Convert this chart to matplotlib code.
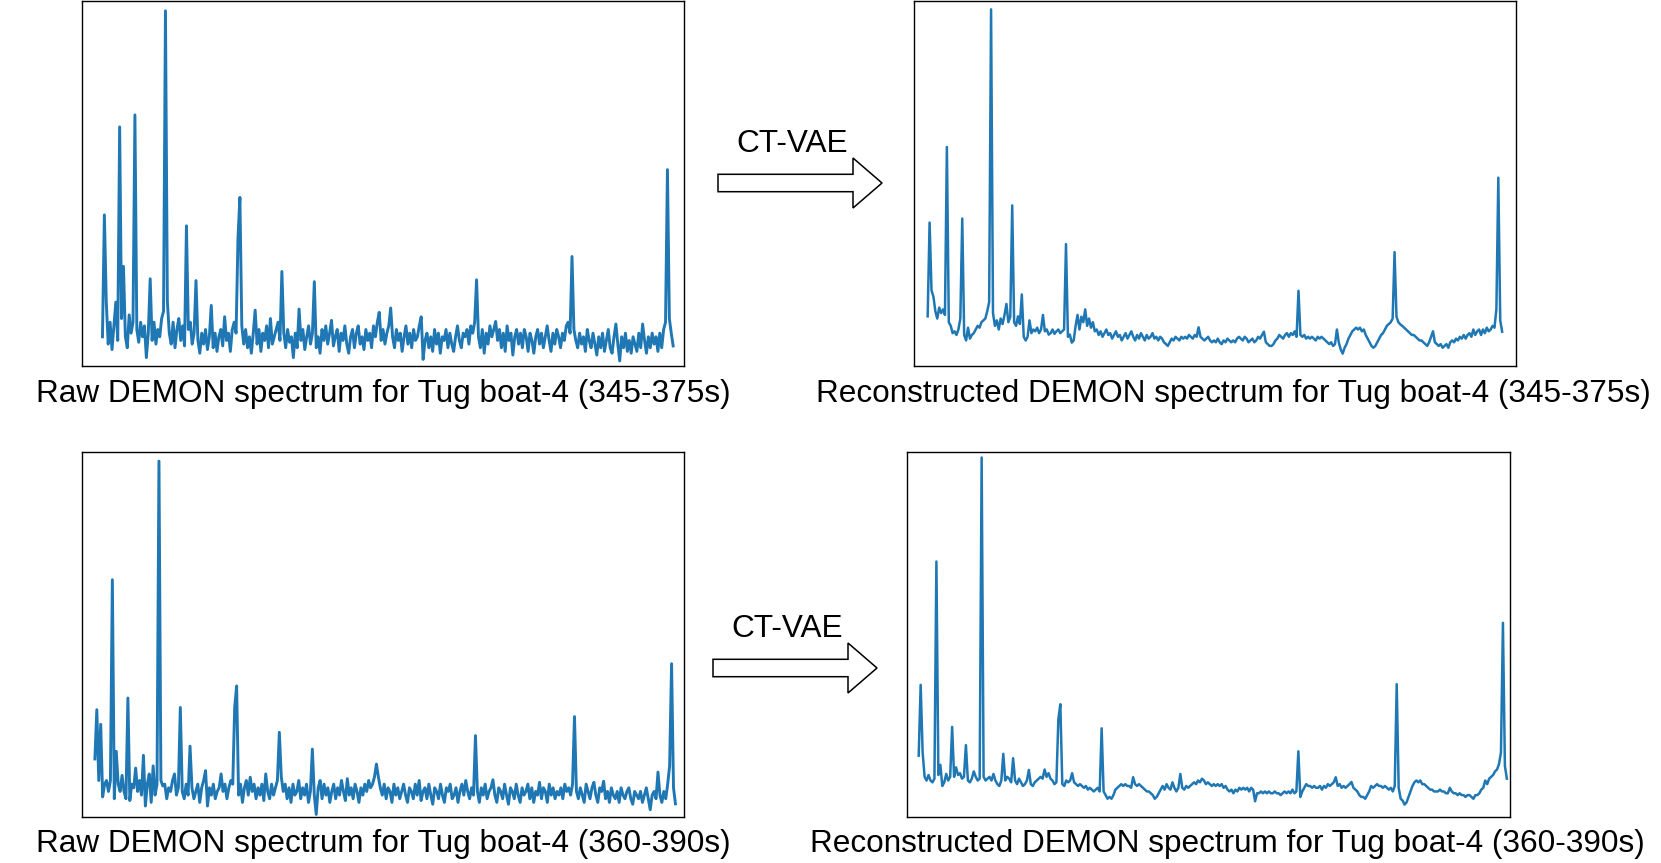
#================================================================================
# DEMON spectra of Tug boat-4: raw input vs CT-VAE reconstruction
#================================================================================

import matplotlib
matplotlib.use("Agg")
import matplotlib.pyplot as plt
from matplotlib.patches import Polygon

#================================================================================
# Data (amplitude in % of panel height)

raw_345 = [
    8, 41.4, 17.5, 6, 12, 4.5, 11, 17.5, 7, 65.5,
    13, 27.3, 8, 5, 14, 9, 12, 68.8, 10, 6.5,
    12, 8, 11, 2.3, 9, 23.9, 7, 12, 6, 10,
    8, 13, 15, 97.3, 17.7, 9, 6, 12, 5, 10,
    13, 7, 11, 5.5, 38.4, 10, 12, 6, 9, 23.4,
    7, 3.5, 9, 6, 10, 4.5, 8, 16.6, 5, 9,
    4, 8, 10, 5.5, 13.5, 7, 9, 4, 10, 12,
    9, 35, 46.2, 11, 6, 10, 5, 8, 3.5, 9,
    15.3, 6, 10, 4, 9, 7, 11, 5, 13, 6,
    8, 10, 12, 7, 25.9, 9, 5, 10, 6.5, 8,
    2.3, 9, 5, 15.6, 7, 10, 4.5, 8, 11, 6,
    9, 23.1, 5, 8, 3.5, 10, 7, 11, 6, 9,
    12.5, 5.5, 8, 10, 4, 9, 7, 11, 6, 3.5,
    8, 10, 5, 9, 11, 6, 8, 4.5, 10, 7,
    9, 5, 11, 8, 12, 14.7, 7, 10, 6, 9,
    11, 15.9, 8, 5, 10, 7, 9, 4, 8, 11,
    6, 9, 5, 10, 7, 8, 11, 13.5, 1.8, 7,
    9, 5, 8, 4, 10, 6, 9, 3.5, 8, 7,
    10, 5, 9, 6, 4, 8, 11, 7, 5, 9,
    8, 10, 6, 11, 9, 12, 23.6, 8, 5, 10,
    3.5, 9, 6, 11, 8, 10, 12.2, 7, 10, 5,
    9, 4, 11, 7, 9, 3, 8, 10, 6, 9,
    5, 10, 8, 4, 9, 7, 3.5, 8, 10, 6,
    9, 5, 8, 11, 7, 4, 9, 6, 10, 8,
    5, 9, 7, 11, 12, 9, 30, 10, 7, 5,
    9, 6, 8, 4, 10, 7, 5, 9, 6, 3,
    8, 5, 9, 4, 7, 10, 5, 3.5, 8, 11.5,
    6, 1.4, 8, 5, 9, 4, 7, 3.5, 8, 6,
    4, 9, 5, 11.5, 7, 3.5, 8, 5, 9, 6,
    8, 4, 9, 5, 10, 12, 53.8, 13, 9, 5.5,
]

recon_345 = [
    13.6, 39.3, 20.7, 19, 15, 13, 16, 14.5, 15.5, 14,
    60, 12, 11, 9, 9.5, 8.5, 10, 13, 40.4, 8.5,
    7, 10.5, 7.5, 8.5, 9, 10, 11, 10.5, 12, 12.5,
    13, 15, 17.5, 97.7, 14.5, 11, 12.5, 10, 13, 11.5,
    14, 17, 12, 13.5, 44, 12, 11, 13.6, 11.5, 19.6,
    8, 7, 8, 12.5, 9, 10, 9.5, 10.5, 9, 10,
    14, 9.5, 10, 8.6, 9, 10, 8.8, 9.5, 10, 9,
    9.5, 10, 33.4, 8, 8.6, 6.4, 7, 11, 14, 10,
    13.5, 12, 15.5, 11, 13, 10.5, 12, 9.5, 10, 8.5,
    9.5, 8, 9, 10, 8.5, 9, 7.5, 8.5, 9.5, 8,
    8.5, 7, 8, 9, 7.5, 8.5, 9.5, 8, 7, 8.5,
    7.5, 9, 8, 7, 8.5, 7.5, 8, 9, 7.5, 8,
    7, 8, 7.5, 6.5, 6, 5.5, 6.5, 7.5, 7, 8,
    7.5, 7, 8, 7.5, 8, 7.5, 8.5, 8, 7.5, 8.5,
    8, 10.6, 8, 7.5, 7, 7.5, 8, 7, 6.5, 7,
    6.5, 7.5, 6.5, 6, 7, 6.5, 7.5, 7, 6.5, 7,
    6.5, 7.5, 8, 7.5, 7, 8, 7.5, 6.5, 7, 7.5,
    6.5, 7, 8, 7.5, 8.5, 9.4, 6.5, 6, 5.5, 5.5,
    6, 7, 7.5, 8.5, 8, 7.5, 8.5, 9, 8, 9,
    8.5, 9.5, 8, 20.6, 8.5, 8, 8.5, 7.5, 8, 7.5,
    8, 7.5, 7, 8, 7.5, 8, 7.5, 7, 6.5, 6,
    6.5, 5.5, 6, 10, 6.4, 4.5, 3.4, 5, 6, 7.5,
    8.5, 9.5, 10, 10.5, 10, 10.5, 9.5, 10, 8.5, 7.5,
    6.5, 5.5, 5, 5.5, 6.5, 7.5, 8.5, 9, 10, 11,
    11.5, 12, 13, 31.2, 13.5, 12, 11.4, 11, 10.5, 10,
    9.5, 9, 8.5, 8.5, 8, 7.5, 7, 7, 6.5, 6,
    5.5, 6.5, 8, 9.5, 6.5, 6, 5.5, 6, 5, 5.5,
    6, 5, 6.5, 7, 6.5, 7.5, 7, 8, 7.5, 8.5,
    7.5, 8.5, 9, 8, 10, 8.5, 9.5, 10, 8.5, 10,
    9, 10.5, 9.5, 10, 11, 10.5, 15.5, 51.6, 12.5, 9.4,
]

raw_360 = [
    15.9, 29.4, 10, 25.4, 5.5, 9, 10, 7, 10, 65,
    5, 18, 9, 7, 11.4, 7, 5, 32.6, 4.5, 9,
    8, 13.4, 7, 10, 6, 16.9, 3, 9, 11.8, 4,
    14, 6, 9, 97.5, 10, 8.5, 9, 5, 8, 7,
    10, 11.8, 6, 8, 30, 7, 5, 9, 6, 19.4,
    8, 5, 7, 9, 4, 8, 10, 12.7, 3, 8,
    6, 9, 5, 7, 8, 11.8, 7, 9, 5, 8,
    10, 9, 30, 35.9, 6, 9, 4, 8, 10, 6,
    10.9, 7, 9, 5, 8, 6, 9, 4.5, 11.8, 7,
    5, 9, 6, 8, 10, 23.2, 11, 7, 9, 5,
    8, 4, 9, 6, 7, 10, 5, 8, 6, 9,
    4, 7, 18.6, 6, 0.7, 8, 10, 5, 9, 6,
    8, 4, 7, 9, 5, 8, 6, 10, 7, 4.5,
    10.5, 6, 8, 5, 9, 7, 4, 8, 6, 9,
    7, 10, 8, 9, 11, 14.5, 11, 8, 6, 9,
    5, 8, 7, 4, 9, 6, 8, 5, 7, 9,
    6, 4, 8, 7, 5, 9, 6, 10, 4.5, 7,
    8, 5, 9, 6, 3.5, 8, 7, 5, 9, 6,
    4, 8, 7, 9, 5, 6, 8, 4, 7, 9,
    6, 10, 7, 5, 8, 6, 22.3, 7, 4, 8,
    6, 9, 5, 7, 8, 10.2, 6, 4, 8, 7,
    5, 9, 6, 3.5, 8, 7, 5, 9, 6, 4,
    8, 6, 7, 9, 5, 8, 4, 7, 6, 9.5,
    5, 8, 7, 4, 9, 6, 8, 5, 7, 6,
    8, 5, 9, 7, 8, 6, 9, 27.5, 7, 5,
    8, 6, 4, 9, 7, 5, 8, 9.5, 6, 4,
    8, 7, 9.8, 5, 7, 4, 8, 6, 5, 7,
    4, 8, 6, 5, 7, 8, 5, 3.5, 7, 6,
    5, 7, 4, 6, 8, 5, 2, 6, 7, 5,
    12.3, 6, 4, 7, 5, 9, 14, 42, 8, 3.6,
]

recon_360 = [
    16.8, 36.2, 17.7, 11, 10, 11.5, 10, 9.5, 10.5, 70,
    11.5, 14.3, 8.5, 9.5, 11.8, 10, 11, 24.7, 11, 13.6,
    11.5, 12, 10.5, 11, 19.7, 10, 9.5, 10.5, 12.5, 11,
    10, 10.5, 98.5, 11, 10, 10.5, 11, 10, 11.8, 10,
    9, 8.5, 10, 17.3, 10, 11, 10.5, 9.5, 16.1, 10,
    9, 10.5, 9.5, 8.5, 9, 10, 12.9, 9, 8.5, 9.5,
    10, 10.5, 11, 10.5, 13, 11, 12, 10.5, 10, 9,
    9.5, 26.8, 30.9, 9, 8.5, 10, 9.5, 10, 12, 9.5,
    9, 8.5, 9, 8.5, 8, 8.5, 7.5, 8, 7.5, 7,
    7.5, 8, 7, 24.3, 7, 6, 5, 5.5, 5, 6,
    7.5, 8, 8.5, 9, 8.5, 9, 8.5, 8.5, 8, 10.9,
    9, 8.5, 9, 8.5, 8, 7.5, 7, 7, 6.5, 6,
    5, 5.5, 6.5, 7.5, 8.5, 7.5, 9, 8, 7.5, 9.5,
    8, 7, 8, 11.8, 8, 7.5, 8.5, 8, 8.5, 9,
    9.5, 9, 10, 9.5, 10.5, 10, 9, 9.5, 9, 8.5,
    9, 8.5, 9, 8.5, 9, 8, 8.5, 7.5, 7, 7.5,
    6.5, 7.5, 7, 8, 7.5, 8, 7.5, 8, 7, 8,
    7.5, 4.3, 6.5, 6.5, 7, 6.5, 7, 6.5, 7, 6.5,
    6.5, 7, 6.5, 6.5, 6, 6.5, 7, 6.5, 7, 6.5,
    7.5, 6.5, 7, 18, 5.5, 7, 8, 9, 8.5, 8.5,
    8, 8.5, 8, 8, 8.5, 7.5, 8.5, 8, 9, 8.5,
    9, 9.5, 10.9, 8.5, 9, 8, 8.5, 8, 8.5, 9,
    9.6, 8, 7.5, 7, 6, 5.5, 5.5, 5, 6, 7,
    8.5, 8, 8.5, 9, 8.5, 8.5, 8, 8.5, 8, 7.5,
    8, 7, 8.5, 36.4, 8, 5, 4.5, 3.4, 4, 5.5,
    7, 8.5, 9.5, 10, 9.5, 10, 9, 9, 8.5, 8,
    7.5, 7.5, 7, 7, 7, 7.5, 7, 7, 6.5, 6.5,
    8, 7, 6.5, 6.5, 6, 6.5, 6, 6, 5.5, 6,
    6, 5.5, 5, 6, 6, 6.5, 7.5, 8, 10, 9,
    10.5, 11, 11.5, 12.5, 13, 14.5, 17.7, 53.2, 14, 10.5,
]

captions = [
    "Raw DEMON spectrum for Tug boat-4 (345-375s)",
    "Reconstructed DEMON spectrum for Tug boat-4 (345-375s)",
    "Raw DEMON spectrum for Tug boat-4 (360-390s)",
    "Reconstructed DEMON spectrum for Tug boat-4 (360-390s)",
]
arrow_label = "CT-VAE"

#================================================================================
# Layout (pixels of the 1661x863 canvas)

W, H = 1661, 863
plt.rcParams["font.family"] = ["Liberation Sans", "DejaVu Sans"]
LINE_COLOR = "#1f77b4"
FONT_SIZE = 22.7

# data, (left, top, right, bottom) of the axes box, line start/end as box
# fraction, line width
panels = [
    (raw_345, (82, 1, 684, 366), 0.034, 0.982, 2.1),
    (recon_345, (914, 1, 1516, 366), 0.0227, 0.977, 1.8),
    (raw_360, (82, 452, 684, 817), 0.0214, 0.9858, 2.1),
    (recon_360, (907, 452, 1510, 817), 0.0194, 0.9948, 1.8),
]
caption_pos = [(383, 394), (1233, 394), (383, 844), (1227, 844)]
# arrow: tail x, head base x, tip x, centre y ; label position
arrows = [((718, 853, 882, 183), (792, 144)),
          ((713, 848, 877, 668), (787, 629))]

#================================================================================
# Plot

fig = plt.figure(figsize=(W / 100, H / 100), dpi=100)

for data, (l, t, r, b), f0, f1, lw in panels:
    ax = fig.add_axes([l / W, 1 - b / H, (r - l) / W, (b - t) / H])
    n = len(data)
    span = (n - 1) / (f1 - f0)
    ax.plot(range(n), data, color=LINE_COLOR, lw=lw)
    ax.set_xlim(-f0 * span, -f0 * span + span)
    ax.set_ylim(0, 100)
    ax.set_xticks([])
    ax.set_yticks([])
    for s in ax.spines.values():
        s.set_linewidth(1.0)

for text, (x, y) in zip(captions, caption_pos):
    fig.text(x / W, 1 - y / H, text, ha="center", va="center", fontsize=FONT_SIZE)

# overlay for the block arrows
ov = fig.add_axes([0, 0, 1, 1])
ov.set_xlim(0, W)
ov.set_ylim(H, 0)
ov.axis("off")
ov.patch.set_visible(False)
for (x0, x1, x2, yc), (tx, ty) in arrows:
    bh, hh = 8.7, 25
    pts = [(x0, yc - bh), (x1, yc - bh), (x1, yc - hh), (x2, yc),
           (x1, yc + hh), (x1, yc + bh), (x0, yc + bh)]
    ov.add_patch(Polygon(pts, closed=True, facecolor="white",
                         edgecolor="black", lw=1.1))
    ov.text(tx, ty, arrow_label, ha="center", va="center", fontsize=FONT_SIZE)

fig.savefig("out.png", dpi=100)
